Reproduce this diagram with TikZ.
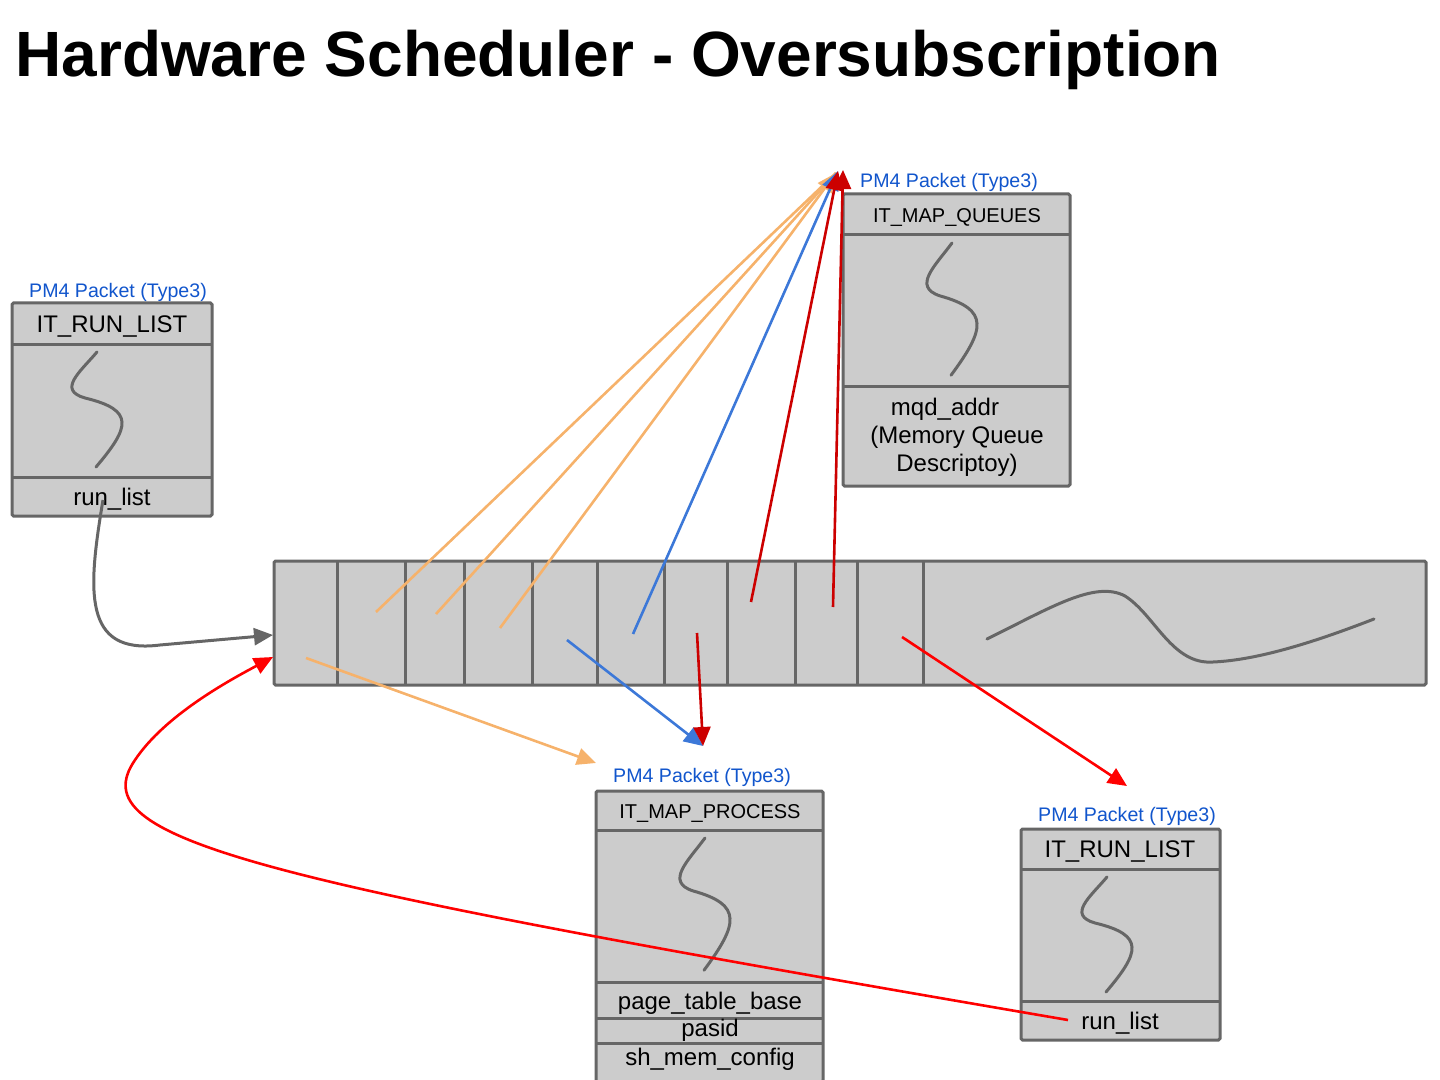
\documentclass[tikz,border=0pt]{standalone}
\usepackage{fontspec}
\setmainfont{Liberation Sans}
\usetikzlibrary{arrows.meta}
\definecolor{boxfill}{HTML}{CCCCCC}
\definecolor{boxline}{HTML}{666666}
\definecolor{pmblue}{HTML}{1155CC}
\definecolor{corange}{HTML}{F6B26B}
\definecolor{cblue}{HTML}{3C78D8}
\definecolor{cdred}{HTML}{CC0000}
\definecolor{cred}{HTML}{FF0000}
\tikzset{
  pkt/.style={draw=boxline, fill=boxfill, line width=1.5pt, rounded corners=0.8pt},
  divl/.style={draw=boxline, line width=1.5pt},
  wave/.style={draw=boxline, line width=1.5pt, line cap=round},
  pmlabel/.style={text=pmblue, font=\fontsize{9.8pt}{11pt}\selectfont, inner sep=0pt},
  hdrsm/.style={font=\fontsize{10pt}{12pt}\selectfont, inner sep=0pt},
  hdrlg/.style={font=\fontsize{12pt}{14pt}\selectfont, inner sep=0pt},
  fld/.style={font=\fontsize{12pt}{14pt}\selectfont, inner sep=0pt, align=center},
  arr/.style={line width=1.3pt, -{Triangle[length=9.5pt,width=8.5pt]}},
  squig/.pic={\draw[wave] (0,0) .. controls (-17,20) and (-40,38) .. (-12,46) .. controls (38,58) and (33,75) .. (-1,115);}
}
\begin{document}
\begin{tikzpicture}[x=0.5pt,y=-0.5pt]
\useasboundingbox (0,0) rectangle (1440,1080);

% title
\node[anchor=base west, inner sep=0pt, font=\fontsize{32pt}{36pt}\selectfont\bfseries] (title) at (15,77) {Hardware Scheduler - Oversubscription};

% ---------- left IT_RUN_LIST ----------
\draw[pkt] (12,303) rectangle (212,516);
\draw[divl] (12,345) -- (212,345);
\draw[divl] (12,477) -- (212,477);
\node[pmlabel] (lpm) at (118,292) {PM4 Packet (Type3)};
\node[hdrlg] (lhdr) at (112,327) {IT\_RUN\_LIST};
\node[fld] (lrun) at (112,499) {run\_list};
\pic at (97,352) {squig};

% ---------- IT_MAP_QUEUES ----------
\draw[pkt] (843,194) rectangle (1070,486);
\draw[divl] (843,235) -- (1070,235);
\draw[divl] (843,387) -- (1070,387);
\node[pmlabel] (qpm) at (949,182) {PM4 Packet (Type3)};
\node[hdrsm] (qhdr) at (957,218) {IT\_MAP\_QUEUES};
\node[fld] (qmqd) at (945,409) {mqd\_addr};
\node[fld] (qmem) at (957,437) {(Memory Queue};
\node[fld] (qdesc) at (957,465) {Descriptoy)};
\pic[yscale=1.15] at (952,243) {squig};

% ---------- IT_MAP_PROCESS ----------
\draw[pkt] (596,791) rectangle (823,1082);
\draw[divl] (596,830) -- (823,830);
\draw[divl] (596,982) -- (823,982);
\draw[divl] (596,1018) -- (823,1018);
\draw[divl] (596,1043) -- (823,1043);
\node[pmlabel] (ppm) at (702,777) {PM4 Packet (Type3)};
\node[hdrsm] (phdr) at (710,813) {IT\_MAP\_PROCESS};
\node[fld] (ppt) at (710,1003) {page\_table\_base};
\node[fld] (ppas) at (710,1030) {pasid};
\node[fld] (psh) at (710,1059) {sh\_mem\_config};
\pic[yscale=1.15] at (705,838) {squig};

% ---------- right IT_RUN_LIST ----------
\draw[pkt] (1021,829) rectangle (1220,1040);
\draw[divl] (1021,869) -- (1220,869);
\draw[divl] (1021,1001) -- (1220,1001);
\node[pmlabel] (rpm) at (1127,816) {PM4 Packet (Type3)};
\node[hdrlg] (rhdr) at (1120,852) {IT\_RUN\_LIST};
\node[fld] (rrun) at (1120,1023) {run\_list};
\pic at (1107,877) {squig};

% ---------- run list strip ----------
\draw[pkt] (274,561) rectangle (1426,685);
\foreach \xx in {337,405,464,532,597,664,727,795,857,923}
  \draw[divl] (\xx,561) -- (\xx,685);
\draw[wave] (987,639) .. controls (1050,608) and (1095,580) .. (1125,596)
  .. controls (1155,615) and (1172,665) .. (1213,662)
  .. controls (1260,660) and (1320,640) .. (1374,619);

% ---------- coordinates ----------
\coordinate (qtop) at (836,173);
\coordinate (qtopb) at (838,171);
\coordinate (qtopr) at (843,170);
\coordinate (ptip) at (703,746);
\coordinate (otip) at (596,763);
\coordinate (rtip) at (1127,786);
\coordinate (stripin) at (273,635);
\coordinate (stripin2) at (273,657);
\coordinate (lstart) at (103,500);
\coordinate (rstart) at (1068,1020);
\coordinate (o1) at (376,612);
\coordinate (o2) at (436,614);
\coordinate (o3) at (500,628);
\coordinate (o4) at (306,658);
\coordinate (b1) at (633,634);
\coordinate (b2) at (567,640);
\coordinate (d1) at (751,602);
\coordinate (d2) at (833,607);
\coordinate (d3) at (697,633);
\coordinate (r1) at (902,637);

% ---------- connectors ----------
\draw[corange, line width=1.3pt] (o1) -- (qtop);
\draw[corange, line width=1.3pt] (o2) -- (qtop);
\draw[arr, corange] (o3) -- (qtop);
\draw[arr, corange] (o4) -- (otip);
\draw[arr, cblue] (b1) -- (qtopb);
\draw[arr, cblue] (b2) -- (ptip);
\draw[arr, cdred] (d1) -- (qtopb);
\draw[arr, cdred] (d2) -- (qtopr);
\draw[arr, cdred] (d3) -- (ptip);
\draw[arr, cred] (r1) -- (rtip);
\draw[arr, boxline, line width=1.5pt] (lstart) .. controls (88,590) and (82,655) .. (160,645) -- (stripin);
\draw[arr, cred] (rstart) .. controls (250,880) and (80,840) .. (135,760)
  .. controls (165,715) and (230,680) .. (stripin2);
\end{tikzpicture}
\end{document}
